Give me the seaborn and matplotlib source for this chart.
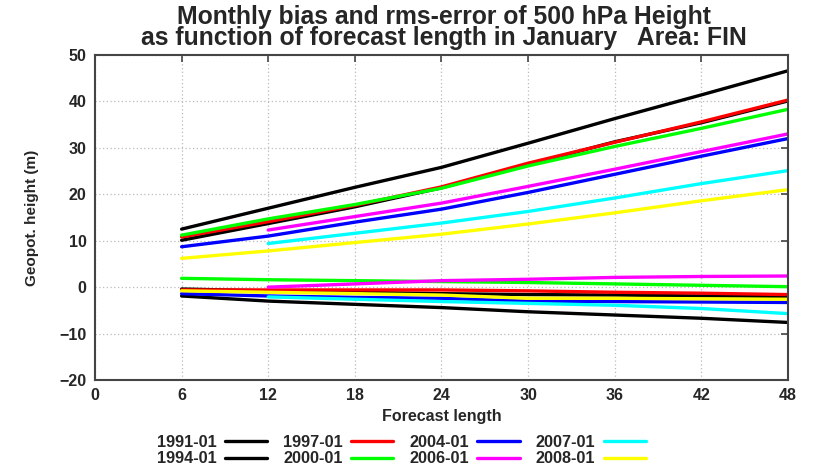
import numpy as np
import pandas as pd
import matplotlib
matplotlib.use("Agg")
import matplotlib.pyplot as plt
from matplotlib.lines import Line2D
import seaborn as sns

# Forecast lead times (hours)
lead = [6, 12, 18, 24, 30, 36, 42, 48]

months = ["1991-01", "1994-01", "1997-01", "2000-01",
          "2004-01", "2006-01", "2007-01", "2008-01"]
colors = ["#000000", "#000000", "#ff0000", "#00ff00",
          "#0000ff", "#ff00ff", "#00ffff", "#ffff00"]

nan = np.nan
# RMS error of 500 hPa height (m)
rms_1991 = [12.5, 17.0, 21.5, 25.8, 31.0, 36.3, 41.4, 46.6]
rms_1994 = [10.1, 13.7, 17.3, 21.4, 26.4, 31.3, 35.4, 40.1]
rms_1997 = [10.8, 14.1, 17.6, 21.6, 26.7, 31.2, 35.6, 40.3]
rms_2000 = [11.2, 14.7, 17.8, 21.3, 26.1, 30.3, 34.2, 38.3]
rms_2004 = [8.7, 11.0, 14.0, 16.8, 20.4, 24.3, 28.2, 32.0]
rms_2006 = [nan, 12.3, 15.2, 18.1, 21.7, 25.4, 29.2, 33.0]
rms_2007 = [nan, 9.4, 11.6, 13.8, 16.3, 19.2, 22.3, 25.1]
rms_2008 = [6.2, 7.8, 9.6, 11.4, 13.6, 16.0, 18.6, 21.0]

# Bias of 500 hPa height (m)
bias_1991 = [-1.9, -3.0, -3.7, -4.4, -5.3, -6.0, -6.7, -7.6]
bias_1994 = [-0.4, -0.8, -1.1, -1.4, -1.6, -1.7, -1.9, -2.0]
bias_1997 = [-0.6, -0.6, -0.6, -0.6, -0.8, -1.1, -1.3, -1.6]
bias_2000 = [1.9, 1.6, 1.4, 1.2, 1.0, 0.7, 0.4, 0.1]
bias_2004 = [-1.4, -1.9, -2.2, -2.4, -3.0, -3.1, -3.2, -3.3]
bias_2006 = [nan, 0.0, 0.7, 1.4, 1.7, 2.1, 2.3, 2.4]
bias_2007 = [nan, -2.1, -2.6, -3.1, -3.5, -3.9, -4.6, -5.7]
bias_2008 = [-0.8, -1.1, -1.4, -1.7, -2.4, -2.4, -2.5, -2.6]

rms = [rms_1991, rms_1994, rms_1997, rms_2000,
       rms_2004, rms_2006, rms_2007, rms_2008]
bias = [bias_1991, bias_1994, bias_1997, bias_2000,
        bias_2004, bias_2006, bias_2007, bias_2008]

x_ticks = [0, 6, 12, 18, 24, 30, 36, 42, 48]
y_ticks = [-20, -10, 0, 10, 20, 30, 40, 50]

sns.set_theme(style="white")
plt.rcParams["font.family"] = ["Liberation Sans", "DejaVu Sans"]
plt.rcParams["font.weight"] = "bold"

fig = plt.figure(figsize=(8.14, 4.66), dpi=100)
ax = fig.add_axes([0.1167, 0.1845, 0.8513, 0.6975])

for m, c, r, b in zip(months, colors, rms, bias):
    df = pd.DataFrame({"lead": lead, "rms": r, "bias": b}).dropna()
    sns.lineplot(data=df, x="lead", y="rms", color=c, lw=2.4, ax=ax,
                 estimator=None, sort=False)
    sns.lineplot(data=df, x="lead", y="bias", color=c, lw=2.4, ax=ax,
                 estimator=None, sort=False)

ax.set_xlim(0, 48)
ax.set_ylim(-20, 50)
ax.set_xticks(x_ticks)
ax.set_yticks(y_ticks)
ax.tick_params(direction="in", length=5, width=1.2, color="#444444",
               top=True, right=True, labelsize=11.5, pad=6)
for lbl in ax.get_xticklabels() + ax.get_yticklabels():
    lbl.set_fontweight("bold")
ax.grid(True, color="#bbbbbb", linestyle=(0, (1, 2)), linewidth=0.9)
for s in ax.spines.values():
    s.set_color("#444444")
    s.set_linewidth(1.5)

ax.set_xlabel("Forecast length", fontsize=11.5, fontweight="bold", labelpad=4)
ax.set_ylabel("Geopot. height (m)", fontsize=11, fontweight="bold", labelpad=15)
fig.text(0.545, 0.99,
         "Monthly bias and rms-error of 500 hPa Height\n"
         "as function of forecast length in January   Area: FIN",
         fontsize=17.8, fontweight="bold", linespacing=0.86,
         ha="center", va="top")

handles = [Line2D([], [], color=c, lw=2.4) for c in colors]
leg = fig.legend(handles, months, ncol=4, loc="lower center",
                 bbox_to_anchor=(0.493, -0.032), frameon=False,
                 markerfirst=False, fontsize=11.7, handlelength=2.6,
                 columnspacing=1.0, labelspacing=0.08, handletextpad=0.5)
for t in leg.get_texts():
    t.set_fontweight("bold")

fig.savefig("out.png", dpi=100)
